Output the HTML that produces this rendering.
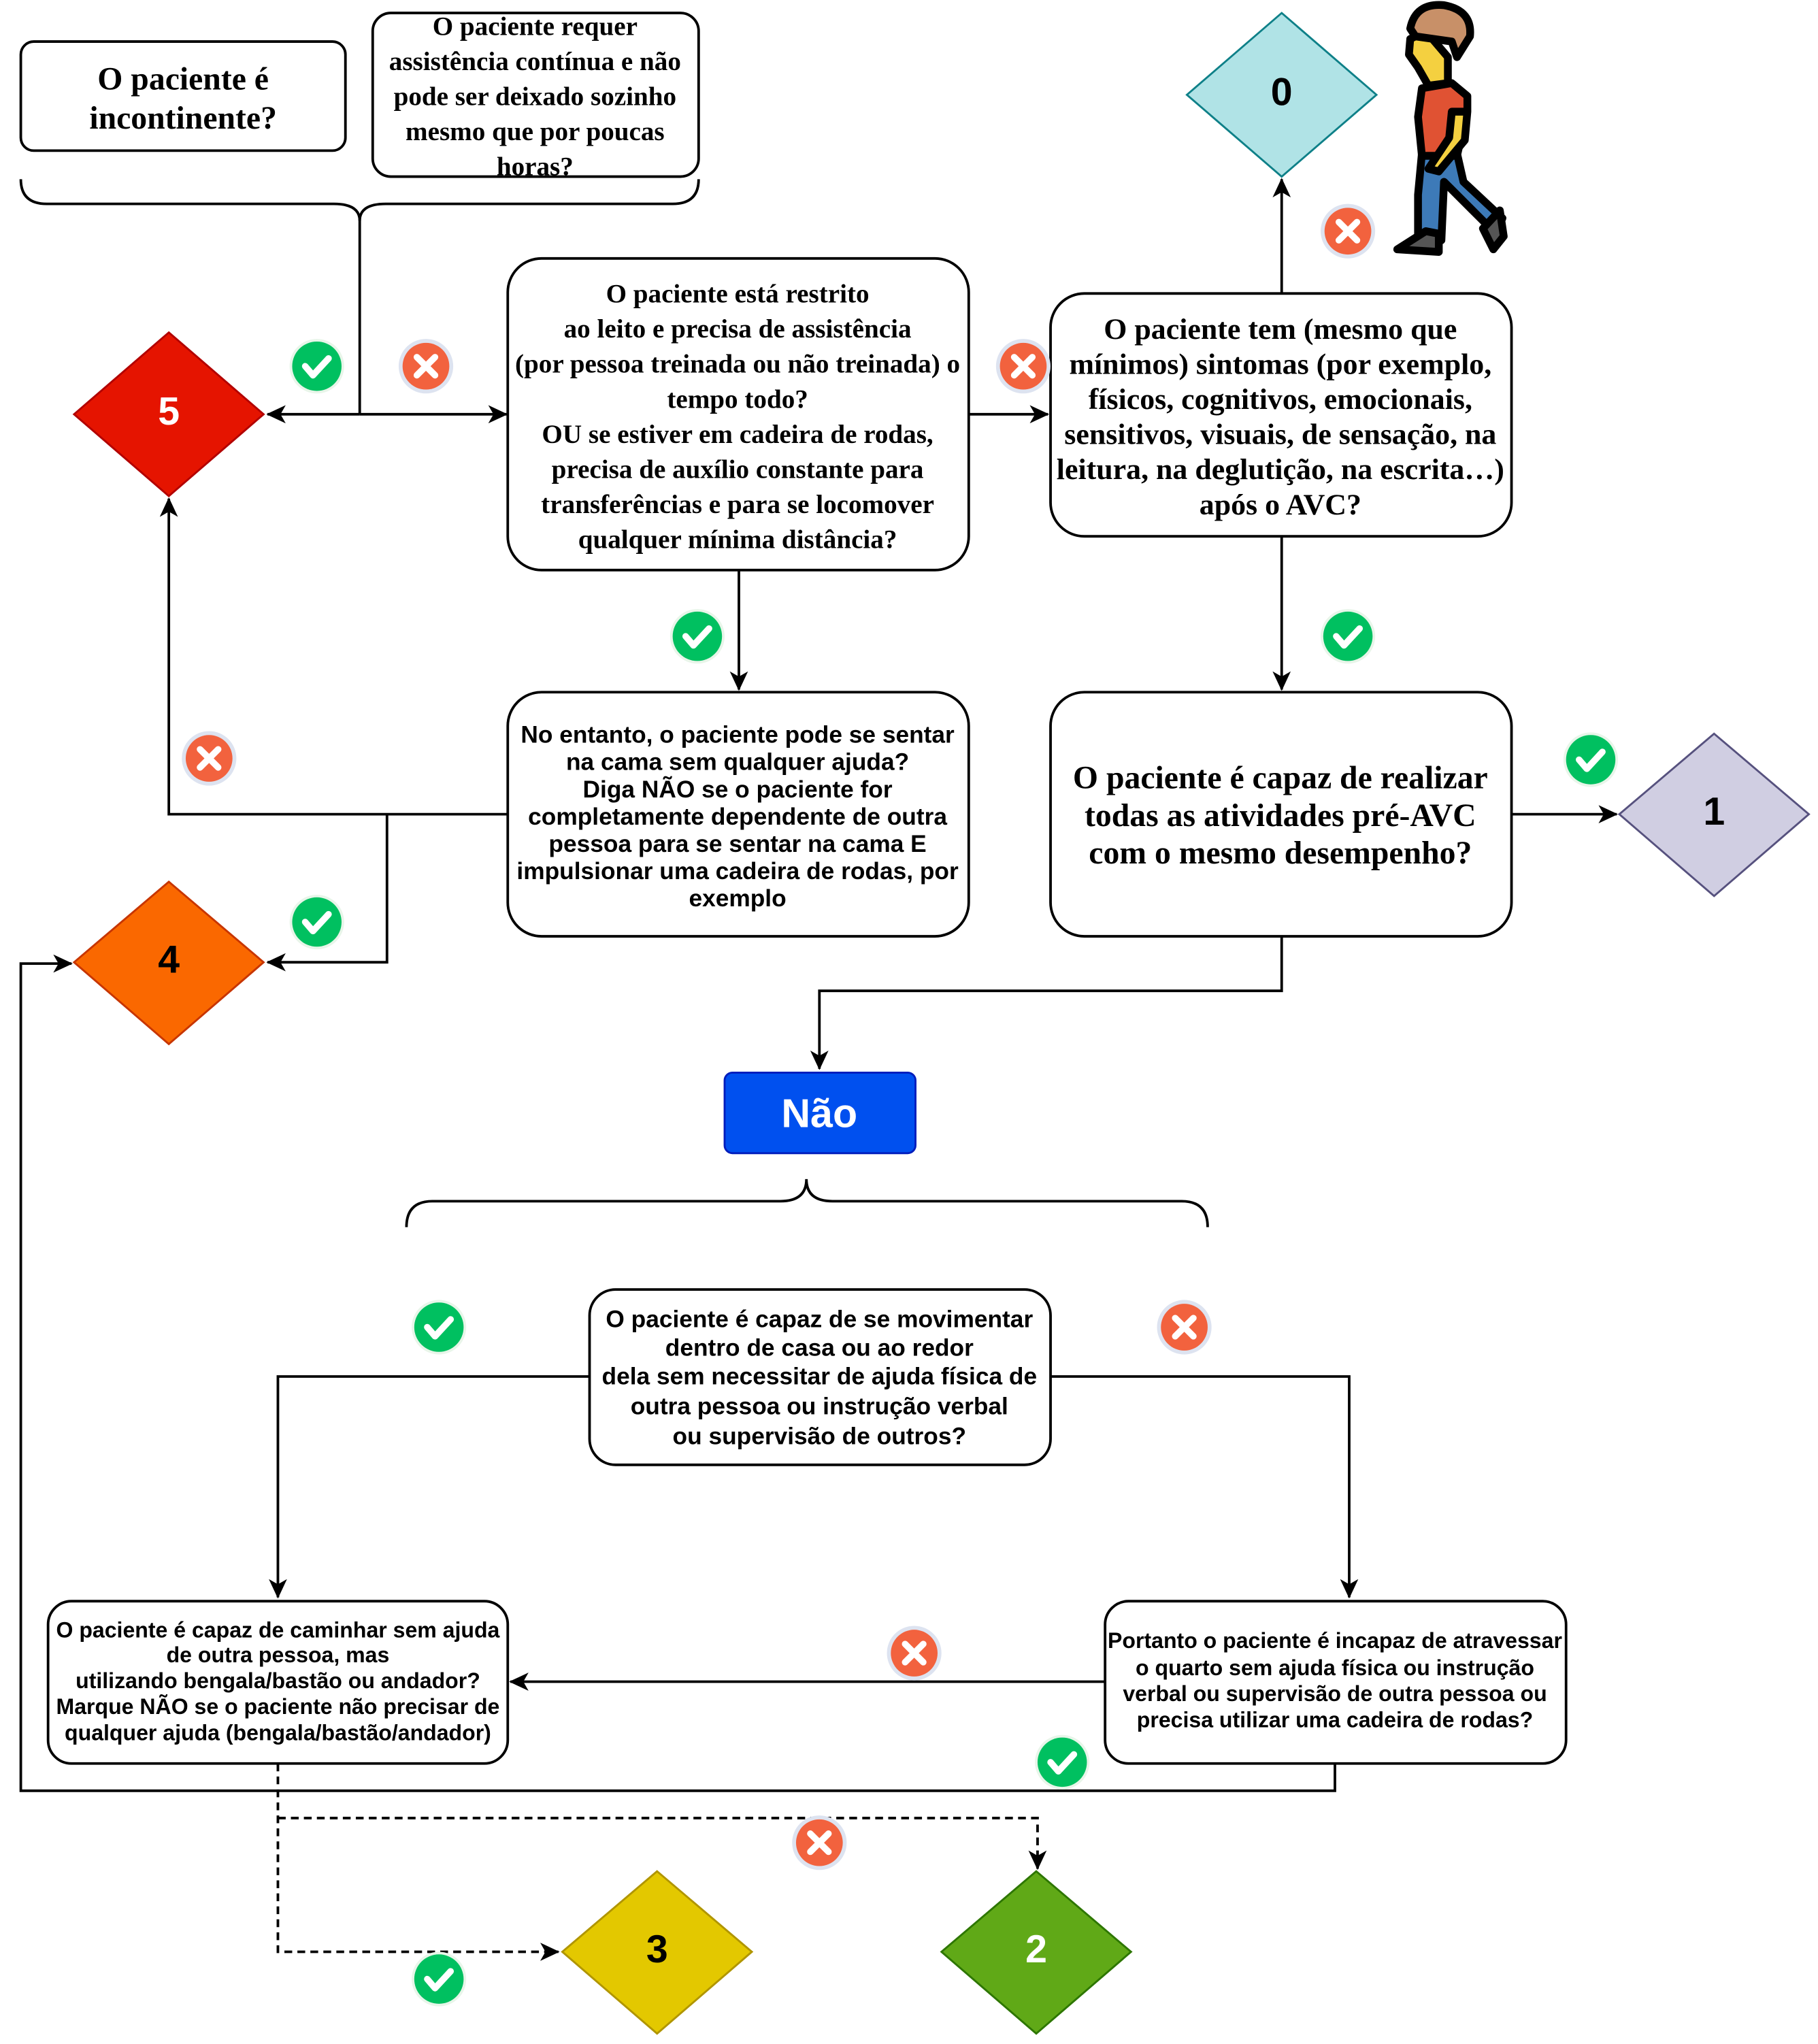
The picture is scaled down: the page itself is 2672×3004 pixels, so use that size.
<!DOCTYPE html>
<html><head><meta charset="utf-8"><style>
html,body{margin:0;padding:0;background:#fff}
svg{display:block}
.sr{font-family:"Liberation Serif",serif;font-weight:bold;text-anchor:middle;fill:#000}
.ss{font-family:"Liberation Sans",sans-serif;font-weight:bold;text-anchor:middle;fill:#000}
.ln{fill:none;stroke:#000;stroke-width:2}
.bx{fill:#fff;stroke:#000;stroke-width:2}
</style></head><body>
<svg width="2672" height="3004" viewBox="0 0 1400 1574" xmlns="http://www.w3.org/2000/svg">
<defs>
<marker id="a" markerWidth="15" markerHeight="14" refX="14" refY="7" orient="auto" markerUnits="userSpaceOnUse"><path d="M0,0 L15,7 L0,14 L4,7 Z" fill="#000"/></marker>
<g id="ok"><circle r="21" fill="#e8f5e9"/><circle r="19" fill="#00c060"/><path d="M-9,0 L-3,7 L9,-6" fill="none" stroke="#fff" stroke-width="5" stroke-linecap="round" stroke-linejoin="round"/></g>
<g id="no"><circle r="21" fill="#dde3f0"/><circle r="18" fill="#f2623e"/><path d="M-7,-7 L7,7 M7,-7 L-7,7" stroke="#fff" stroke-width="5" stroke-linecap="round"/></g>
</defs>

<rect class="bx" x="16" y="32" width="250" height="84" rx="10"/>
<text class="sr" font-size="25"><tspan x="141" y="69">O paciente é</tspan><tspan x="141" y="99">incontinente?</tspan></text>
<rect class="bx" x="287" y="10" width="251" height="126" rx="14"/>
<text class="sr" font-size="20.5"><tspan x="412" y="27">O paciente requer</tspan><tspan x="412" y="54">assistência contínua e não</tspan><tspan x="412" y="81">pode ser deixado sozinho</tspan><tspan x="412" y="108">mesmo que por poucas</tspan><tspan x="412" y="135">horas?</tspan></text>
<path class="ln" d="M16,138 Q16,157 36,157 L257,157 Q277,157 277,170 Q277,157 297,157 L518,157 Q538,157 538,138"/>
<path class="ln" d="M277,165 L277,319"/>
<path class="ln" d="M277,319 L206,319" marker-end="url(#a)"/>
<path class="ln" d="M277,319 L390,319" marker-end="url(#a)"/>

<polygon points="130,256 203,319 130,382 57,319" fill="#e51400" stroke="#b20000" stroke-width="1.5"/>
<text class="ss" x="130" y="327" font-size="30" style="fill:#fff">5</text>

<rect class="bx" x="391" y="199" width="355" height="240" rx="26"/>
<text class="sr" font-size="20.5"><tspan x="568" y="233">O paciente está restrito</tspan><tspan x="568" y="260">ao leito e precisa de assistência</tspan><tspan x="568" y="287">(por pessoa treinada ou não treinada) o</tspan><tspan x="568" y="314">tempo todo?</tspan><tspan x="568" y="341">OU se estiver em cadeira de rodas,</tspan><tspan x="568" y="368">precisa de auxílio constante para</tspan><tspan x="568" y="395">transferências e para se locomover</tspan><tspan x="568" y="422">qualquer mínima distância?</tspan></text>
<path class="ln" d="M746,319 L807,319" marker-end="url(#a)"/>

<rect class="bx" x="809" y="226" width="355" height="187" rx="26"/>
<text class="sr" font-size="23"><tspan x="986" y="261">O paciente tem (mesmo que</tspan><tspan x="986" y="288">mínimos) sintomas (por exemplo,</tspan><tspan x="986" y="315">físicos, cognitivos, emocionais,</tspan><tspan x="986" y="342">sensitivos, visuais, de sensação, na</tspan><tspan x="986" y="369">leitura, na deglutição, na escrita…)</tspan><tspan x="986" y="396">após o AVC?</tspan></text>
<path class="ln" d="M987,226 L987,138" marker-end="url(#a)"/>
<polygon points="987,10 1060,73 987,136 914,73" fill="#b0e3e6" stroke="#0e8088" stroke-width="1.5"/>
<text class="ss" x="987" y="81" font-size="30">0</text>

<g stroke="#000" stroke-width="6" stroke-linejoin="round" stroke-linecap="round">
<path d="M1092,185 L1110,185 L1112,140 L1140,168 L1152,180 L1157,168 L1127,140 L1122,118 L1095,118 L1092,150 Z" fill="#3d7ab8"/>
<path d="M1076,192 L1098,178 L1108,180 L1108,194 Z" fill="#555"/>
<path d="M1142,176 L1155,162 L1158,182 L1150,192 Z" fill="#555"/>
<path d="M1095,68 L1118,64 L1130,74 L1130,85 L1122,120 L1095,120 L1092,90 Z" fill="#e05233"/>
<path d="M1086,30 L1098,24 L1115,44 L1115,64 L1100,66 L1092,52 L1085,42 Z" fill="#f4d040"/>
<path d="M1118,86 L1130,86 L1128,108 L1108,132 L1100,130 L1116,106 Z" fill="#f4d040"/>
<path d="M1086,22 Q1090,2 1112,4 Q1134,8 1132,28 L1122,44 L1118,32 L1090,28 Z" fill="#c89068"/>
</g>

<use href="#no" x="1038" y="178"/>
<use href="#ok" x="244" y="282"/>
<use href="#no" x="328" y="282"/>
<use href="#no" x="788" y="282"/>
<use href="#ok" x="537" y="490"/>
<use href="#ok" x="1038" y="490"/>

<path class="ln" d="M569,439 L569,531" marker-end="url(#a)"/>
<path class="ln" d="M987,413 L987,531" marker-end="url(#a)"/>

<rect class="bx" x="391" y="533" width="355" height="188" rx="26"/>
<text class="ss" font-size="18.5"><tspan x="568" y="572">No entanto, o paciente pode se sentar</tspan><tspan x="568" y="593">na cama sem qualquer ajuda?</tspan><tspan x="568" y="614">Diga NÃO se o paciente for</tspan><tspan x="568" y="635">completamente dependente de outra</tspan><tspan x="568" y="656">pessoa para se sentar na cama E</tspan><tspan x="568" y="677">impulsionar uma cadeira de rodas, por</tspan><tspan x="568" y="698">exemplo</tspan></text>
<path class="ln" d="M391,627 L130,627 L130,384" marker-end="url(#a)"/>
<path class="ln" d="M298,627 L298,741 L206,741" marker-end="url(#a)"/>
<use href="#no" x="161" y="584"/>
<use href="#ok" x="244" y="710"/>

<polygon points="130,679 203,741 130,804 57,741" fill="#fa6800" stroke="#c73500" stroke-width="1.5"/>
<text class="ss" x="130" y="749" font-size="30">4</text>

<rect class="bx" x="809" y="533" width="355" height="188" rx="26"/>
<text class="sr" font-size="25"><tspan x="986" y="607">O paciente é capaz de realizar</tspan><tspan x="986" y="636">todas as atividades pré-AVC</tspan><tspan x="986" y="665">com o mesmo desempenho?</tspan></text>
<path class="ln" d="M1164,627 L1245,627" marker-end="url(#a)"/>
<use href="#ok" x="1225" y="585"/>
<polygon points="1320,565 1393,627 1320,690 1247,627" fill="#d0cee2" stroke="#56517e" stroke-width="1.5"/>
<text class="ss" x="1320" y="635" font-size="30">1</text>

<path class="ln" d="M987,721 L987,763 L631,763 L631,823" marker-end="url(#a)"/>
<rect x="558" y="826" width="147" height="62" rx="6" fill="#0050ef" stroke="#001dbc" stroke-width="1.5"/>
<text class="ss" x="631" y="868" font-size="31" style="fill:#fff">Não</text>

<path class="ln" d="M313,945 Q313,925 333,925 L601,925 Q621,925 621,908 Q621,925 641,925 L910,925 Q930,925 930,945"/>

<use href="#ok" x="338" y="1022"/>
<use href="#no" x="912" y="1022"/>
<rect class="bx" x="454" y="993" width="355" height="135" rx="20"/>
<text class="ss" font-size="18.5"><tspan x="631" y="1022">O paciente é capaz de se movimentar</tspan><tspan x="631" y="1044">dentro de casa ou ao redor</tspan><tspan x="631" y="1066">dela sem necessitar de ajuda física de</tspan><tspan x="631" y="1089">outra pessoa ou instrução verbal</tspan><tspan x="631" y="1112">ou supervisão de outros?</tspan></text>
<path class="ln" d="M454,1060 L214,1060 L214,1230" marker-end="url(#a)"/>
<path class="ln" d="M809,1060 L1039,1060 L1039,1230" marker-end="url(#a)"/>

<rect class="bx" x="37" y="1233" width="354" height="125" rx="18"/>
<text class="ss" font-size="16.8"><tspan x="214" y="1261">O paciente é capaz de caminhar sem ajuda</tspan><tspan x="214" y="1280">de outra pessoa, mas</tspan><tspan x="214" y="1300">utilizando bengala/bastão ou andador?</tspan><tspan x="214" y="1320">Marque NÃO se o paciente não precisar de</tspan><tspan x="214" y="1340">qualquer ajuda (bengala/bastão/andador)</tspan></text>
<rect class="bx" x="851" y="1233" width="355" height="125" rx="18"/>
<text class="ss" font-size="16.8"><tspan x="1028" y="1269">Portanto o paciente é incapaz de atravessar</tspan><tspan x="1028" y="1290">o quarto sem ajuda física ou instrução</tspan><tspan x="1028" y="1310">verbal ou supervisão de outra pessoa ou</tspan><tspan x="1028" y="1330">precisa utilizar uma cadeira de rodas?</tspan></text>
<path class="ln" d="M851,1295 L393,1295" marker-end="url(#a)"/>
<use href="#no" x="704" y="1273"/>
<path class="ln" d="M1028,1358 L1028,1379 L16,1379 L16,742 L55,742" marker-end="url(#a)"/>
<use href="#ok" x="818" y="1357"/>

<path class="ln" d="M214,1358 L214,1503 L430,1503" stroke-dasharray="6,4" marker-end="url(#a)"/>
<path class="ln" d="M214,1400 L799,1400 L799,1439" stroke-dasharray="6,4" marker-end="url(#a)"/>
<use href="#no" x="631" y="1419"/>
<use href="#ok" x="338" y="1524"/>

<polygon points="506,1441 579,1503 506,1566 433,1503" fill="#e3c800" stroke="#b09500" stroke-width="1.5"/>
<text class="ss" x="506" y="1511" font-size="30">3</text>
<polygon points="798,1441 871,1503 798,1566 725,1503" fill="#60a917" stroke="#2d7600" stroke-width="1.5"/>
<text class="ss" x="798" y="1511" font-size="30" style="fill:#fff">2</text>
</svg>
</body></html>
